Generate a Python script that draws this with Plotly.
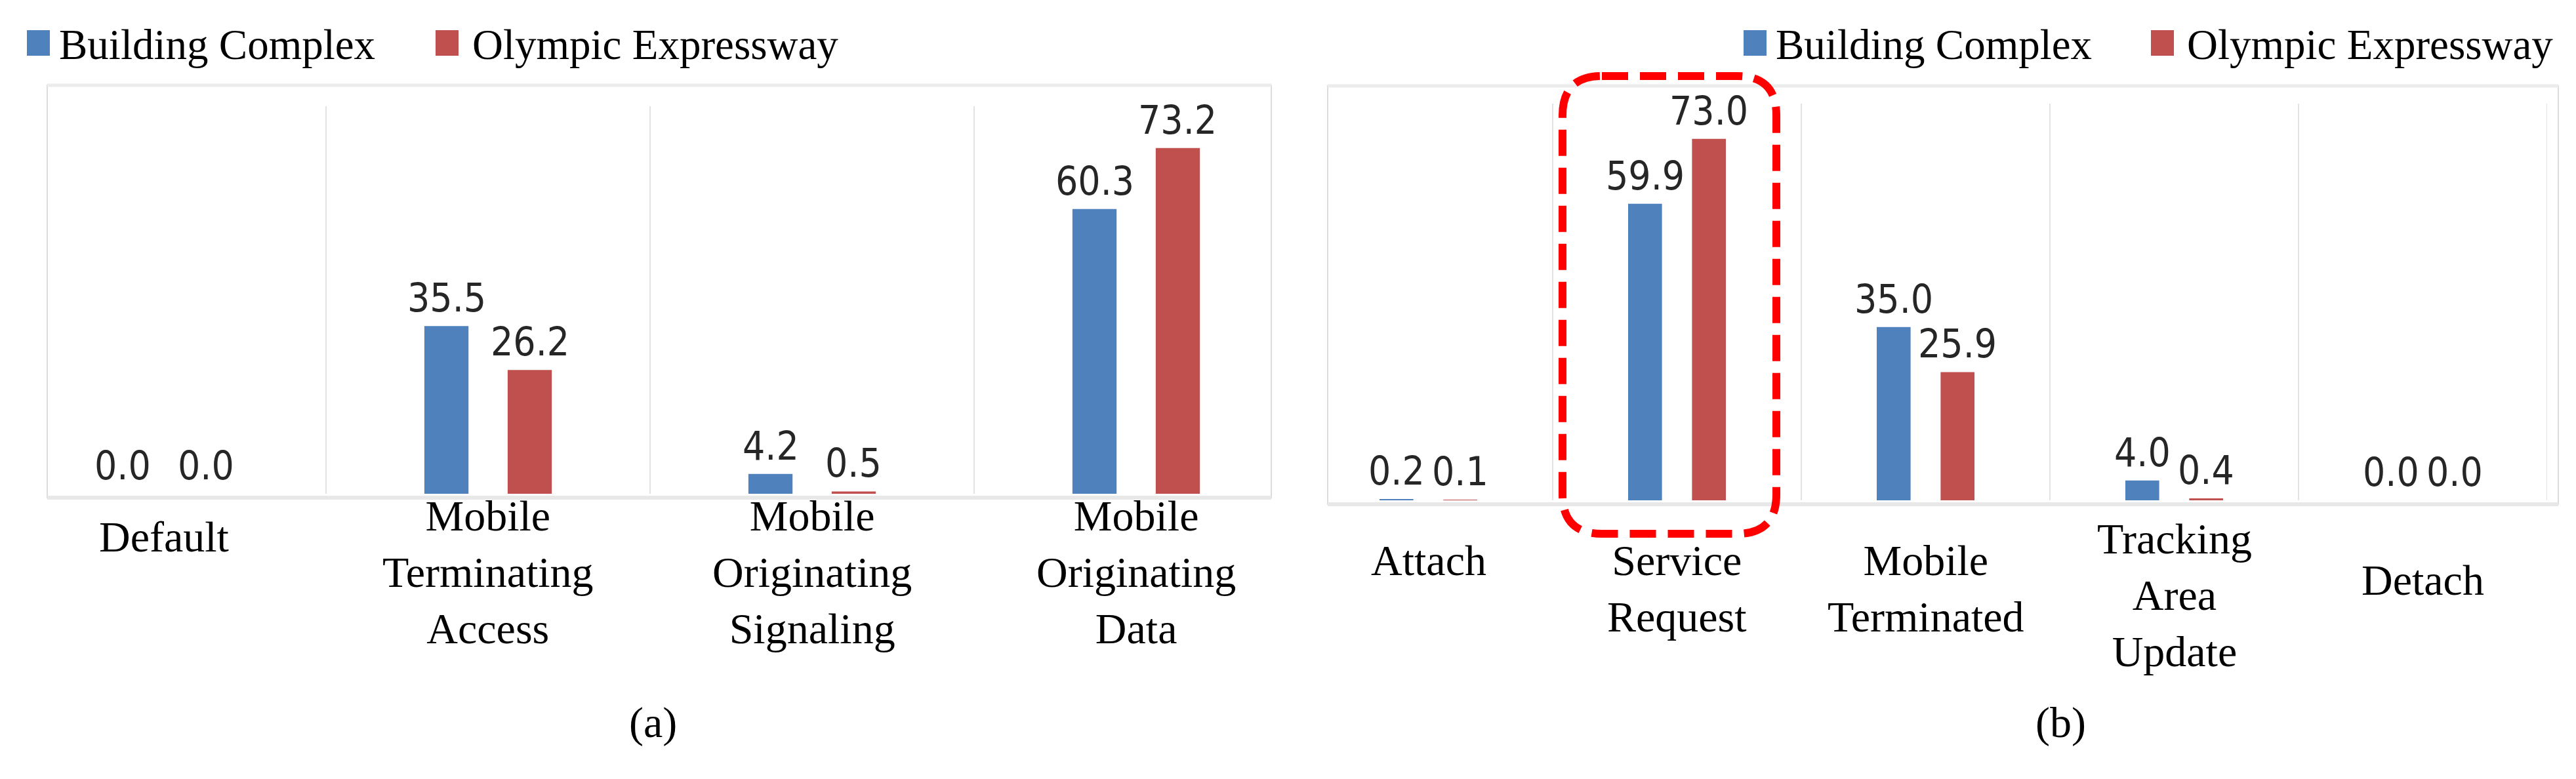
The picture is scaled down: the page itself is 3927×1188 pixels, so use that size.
import plotly.graph_objects as go

W, H = 3927, 1188

series = ['Building Complex', 'Olympic Expressway']
colors = ['#4F81BD', '#C0504D']

cats_a = ['Default', 'Mobile<br>Terminating<br>Access', 'Mobile<br>Originating<br>Signaling',
          'Mobile<br>Originating<br>Data']
building_a = [0.0, 35.5, 4.2, 60.3]
olympic_a = [0.0, 26.2, 0.5, 73.2]

cats_b = ['Attach', 'Service<br>Request', 'Mobile<br>Terminated', 'Tracking<br>Area<br>Update', 'Detach']
building_b = [0.2, 59.9, 35.0, 4.0, 0.0]
olympic_b = [0.1, 73.0, 25.9, 0.4, 0.0]

panel_tags = ['(a)', '(b)']

# layout helpers (pixel -> paper)
def px(p):
    return p / W

def py(p):
    return 1 - p / H

serif = 'Liberation Serif, Times New Roman, serif'
narrow = 'DejaVu Sans Condensed, Roboto Condensed, Liberation Sans Narrow, Roboto, sans-serif'
BARGAP = 0.486

# x domains in px and ranges
dom_a, rng_a = (0, 1971), (-0.49, 3.5)
dom_b, rng_b = (1980, 3875), (-0.5, 4.5)
slot_a = (dom_a[1] - dom_a[0]) / (rng_a[1] - rng_a[0])
slot_b = (dom_b[1] - dom_b[0]) / (rng_b[1] - rng_b[0])

fig = go.Figure()

panels = [
    (cats_a, [building_a, olympic_a], 'x', 'y', slot_a),
    (cats_b, [building_b, olympic_b], 'x2', 'y2', slot_b),
]

shapes = []
annos = []

for cats, vals_list, xa, ya, slot in panels:
    off = slot * (1 - BARGAP) / 4
    for k, vals in enumerate(vals_list):
        fig.add_trace(go.Bar(x=cats, y=vals, name=series[k], marker_color=colors[k], marker_line_width=0,
                             showlegend=False, xaxis=xa, yaxis=ya))
        # value labels above bars
        for c, v in zip(cats, vals):
            annos.append(dict(x=c, y=v, xref=xa, yref=ya, text='%.1f' % v, showarrow=False,
                              xshift=(-off if k == 0 else off), yanchor='bottom', yshift=6,
                              font=dict(family=narrow, size=60, color='#262626')))

# plot frames
for x0, x1, y0, y1 in [(64, 1930, 122, 751), (2016, 3892, 123, 761)]:
    shapes.append(dict(type='rect', xref='paper', yref='paper', x0=px(x0), x1=px(x1), y0=py(y1), y1=py(y0),
                       line=dict(color='#dcdcdc', width=2), layer='below'))
    shapes.append(dict(type='line', xref='paper', yref='paper', x0=px(x0), x1=px(x1), y0=py(y1), y1=py(y1),
                       line=dict(color='#e8e8e8', width=6), layer='below'))
    shapes.append(dict(type='line', xref='paper', yref='paper', x0=px(x0), x1=px(x1), y0=py(y0), y1=py(y0),
                       line=dict(color='#ececec', width=5), layer='below'))

# category separators
for i in range(len(cats_a) - 1):
    shapes.append(dict(type='line', xref='x', yref='paper', x0=i + 0.5, x1=i + 0.5, y0=py(745), y1=py(154),
                       line=dict(color='#e3e3e3', width=2), layer='below'))
for i in range(len(cats_b)):
    shapes.append(dict(type='line', xref='x2', yref='paper', x0=i + 0.5, x1=i + 0.5, y0=py(755), y1=py(150),
                       line=dict(color='#e3e3e3', width=2), layer='below'))

# category labels
label_top_a = [772, 740, 740, 740]
label_top_b = [808, 808, 808, 775, 838]
for c, t in zip(cats_a, label_top_a):
    annos.append(dict(x=c, xref='x', y=py(t), yref='paper', text=c, showarrow=False, yanchor='top',
                      font=dict(family=serif, size=66, color='black')))
for c, t in zip(cats_b, label_top_b):
    annos.append(dict(x=c, xref='x2', y=py(t), yref='paper', text=c, showarrow=False, yanchor='top',
                      font=dict(family=serif, size=66, color='black')))

# legends
for sq, tx in [((33, 656), (80, 710)), ((2650, 3271), (2697, 3324))]:
    for k in range(2):
        shapes.append(dict(type='rect', xref='paper', yref='paper', x0=px(sq[k]), x1=px(sq[k] + 35),
                           y0=py(77), y1=py(38), fillcolor=colors[k], line_width=0))
        annos.append(dict(x=px(tx[k]), xref='paper', y=py(60), yref='paper', text=series[k], showarrow=False,
                          xanchor='left', yanchor='middle', font=dict(family=serif, size=65, color='black')))

# panel tags
for tag, xc in zip(panel_tags, [987, 3133]):
    annos.append(dict(x=px(xc), xref='paper', y=py(1094), yref='paper', text=tag, showarrow=False,
                      xanchor='center', yanchor='middle', font=dict(family=serif, size=66, color='black')))

# red dashed highlight around "Service Request"
x0, x1, y0, y1, r = 2374, 2700, 108, 806, 60
pts = [('M', x0 + r, y0), ('L', x1 - r, y0), ('Q', x1, y0, x1, y0 + r), ('L', x1, y1 - r),
       ('Q', x1, y1, x1 - r, y1), ('L', x0 + r, y1), ('Q', x0, y1, x0, y1 - r), ('L', x0, y0 + r),
       ('Q', x0, y0, x0 + r, y0)]
path = ''
for p in pts:
    cmd, coords = p[0], p[1:]
    xy = []
    for j in range(0, len(coords), 2):
        xy.append('%.5f,%.5f' % (px(coords[j]), py(coords[j + 1])))
    path += cmd + ' '.join(xy) + ' '
path += 'Z'
shapes.append(dict(type='path', xref='paper', yref='paper', path=path,
                   line=dict(color='#ff0000', width=12, dash='40px,18px')))

fig.update_layout(
    width=W, height=H,
    margin=dict(l=0, r=0, t=0, b=0),
    paper_bgcolor='white', plot_bgcolor='rgba(0,0,0,0)',
    barmode='group', bargap=BARGAP, bargroupgap=0.47,
    xaxis=dict(domain=[px(dom_a[0]), px(dom_a[1])], range=list(rng_a), type='category', categoryorder='array',
               categoryarray=cats_a, showticklabels=False, showgrid=False, zeroline=False, showline=False,
               anchor='y'),
    yaxis=dict(domain=[py(745), py(122)], range=[0, 86.5], visible=False, anchor='x'),
    xaxis2=dict(domain=[px(dom_b[0]), px(dom_b[1])], range=list(rng_b), type='category', categoryorder='array',
                categoryarray=cats_b, showticklabels=False, showgrid=False, zeroline=False, showline=False,
                anchor='y2'),
    yaxis2=dict(domain=[py(755), py(123)], range=[0, 83.7], visible=False, anchor='x2'),
    shapes=shapes,
    annotations=annos,
)

fig.write_html('out.html')
